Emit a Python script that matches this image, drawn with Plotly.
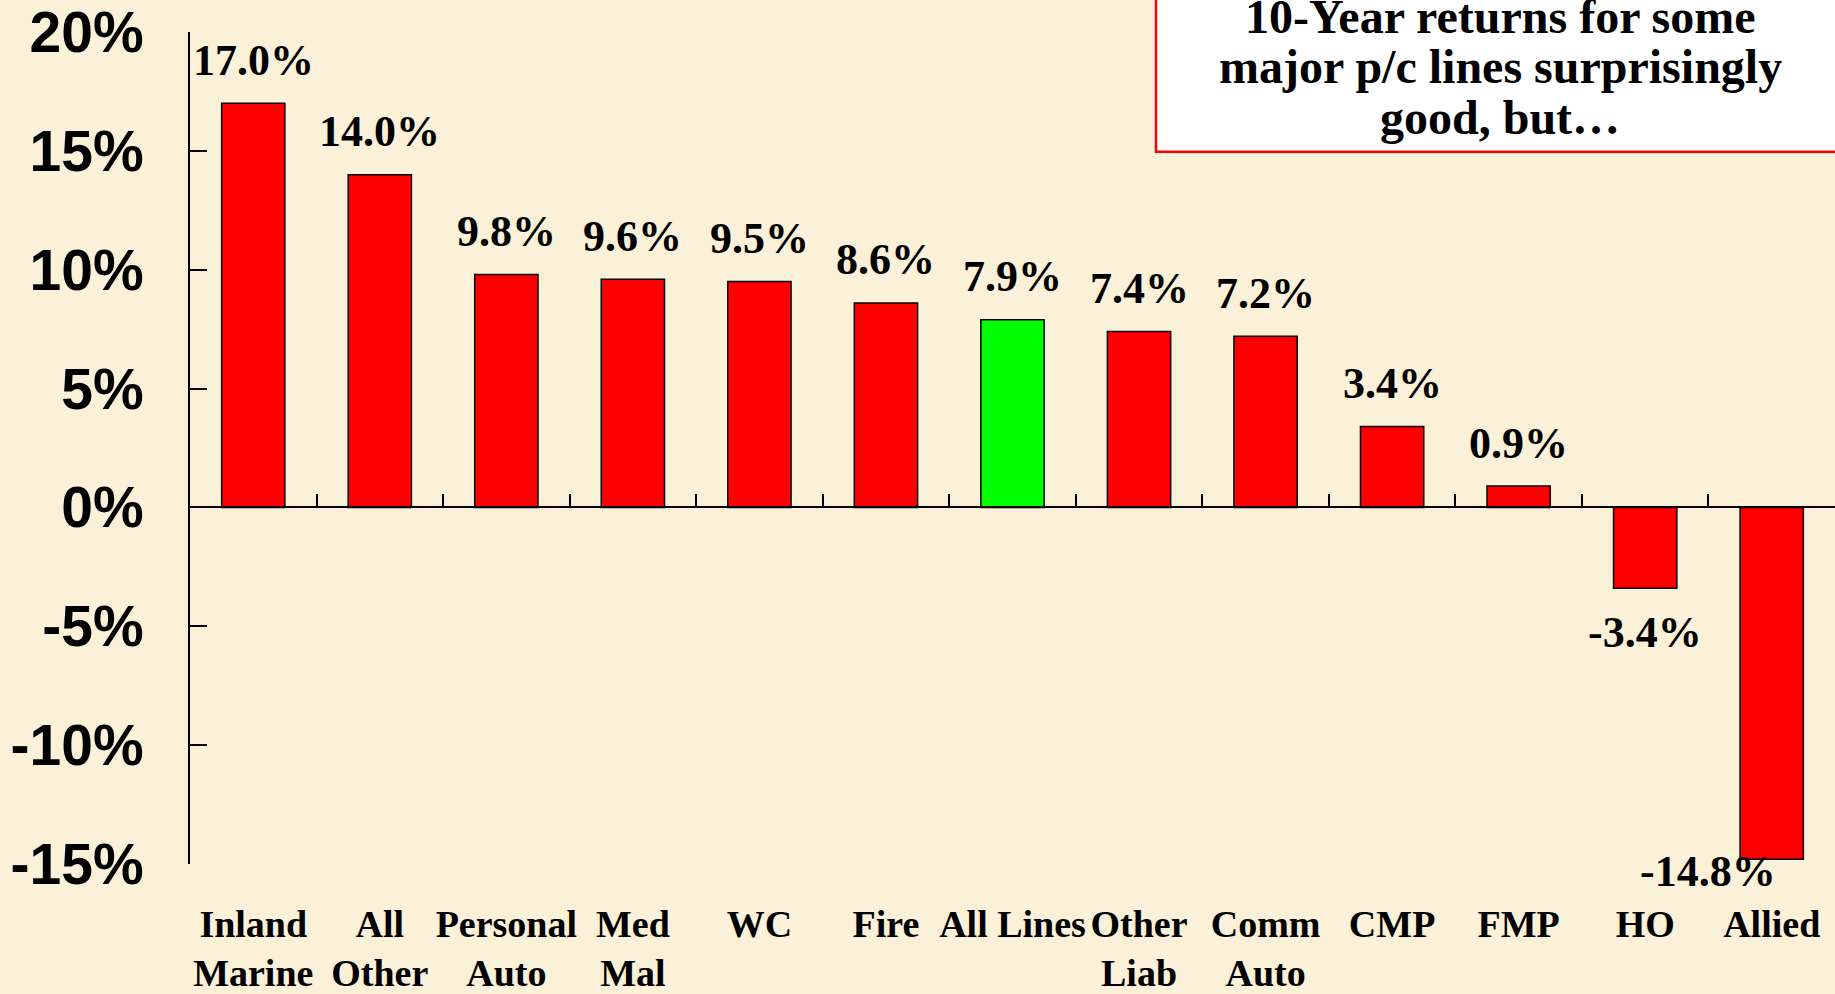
import plotly.graph_objects as go

# 10-year average return on net worth by line (%)
lines = ["Inland<br>Marine", "All<br>Other", "Personal<br>Auto", "Med<br>Mal", "WC", "Fire",
         "All Lines", "Other<br>Liab", "Comm<br>Auto", "CMP", "FMP", "HO", "Allied"]
returns = [17.0, 14.0, 9.8, 9.6, 9.5, 8.6, 7.9, 7.4, 7.2, 3.4, 0.9, -3.4, -14.8]
highlight = "All Lines"

ytick_vals = [-15, -10, -5, 0, 5, 10, 15, 20]

title_lines = ["10-Year returns for some", "major p/c lines surprisingly", "good, but…"]

W, H = 1835, 994
ML, MR, MT, MB = 190, 0, 32, 128
BG = "#FBF0D8"
SERIF = "Liberation Serif, Times New Roman, serif"
SANS = "Liberation Sans, Arial, sans-serif"

colors = ["#00FF00" if c == highlight else "#FF0000" for c in lines]
ymin, ymax = -15, 20
xrange = [-0.5, 12.5]

fig = go.Figure()
fig.add_trace(go.Bar(
    x=lines, y=returns,
    marker=dict(color=colors, line=dict(color="black", width=1.5)),
    hoverinfo="x+y", showlegend=False
))
# invisible copy so the bottom label axis has categories
fig.add_trace(go.Scatter(
    x=lines, y=returns, xaxis="x2", mode="markers",
    marker=dict(opacity=0), hoverinfo="skip", showlegend=False
))

# value labels above / below bars
for name, v in zip(lines, returns):
    shift = 43 if v >= 0 else -44
    xshift = 0
    if v < -12:  # no room below, label sits over the bar end like the original
        shift, xshift = -12, -64
    fig.add_annotation(
        x=name, y=v, xref="x", yref="y", yshift=shift, xshift=xshift, showarrow=False,
        xanchor="center", yanchor="middle",
        text=f"{v:.1f}%", font=dict(family=SERIF, size=44, color="black", weight="bold")
    )

# title box, top right
fig.add_shape(type="rect", xref="paper", yref="paper",
              x0=(1156 - ML) / (W - ML), x1=1.02,
              y0=(H - MB - 152) / (H - MB - MT), y1=1.2,
              fillcolor="white", line=dict(color="#FF0000", width=2.5), layer="above")
for i, t in enumerate(title_lines):
    fig.add_annotation(
        x=(1500 - ML) / (W - ML), y=(H - MB - (16 + 51 * i)) / (H - MB - MT),
        xref="paper", yref="paper", showarrow=False, text=t,
        xanchor="center", yanchor="middle",
        font=dict(family=SERIF, size=48, color="black", weight="bold")
    )

fig.update_layout(
    width=W, height=H,
    margin=dict(l=ML, r=MR, t=MT, b=MB, pad=0),
    paper_bgcolor=BG, plot_bgcolor=BG,
    bargap=0.5,
    xaxis=dict(
        type="category", categoryorder="array", categoryarray=lines, range=xrange,
        anchor="free", position=(0 - ymin) / (ymax - ymin),
        showline=True, linecolor="black", linewidth=1.5,
        ticks="inside", tickson="boundaries", ticklen=13, tickwidth=1.5, tickcolor="black",
        showticklabels=False, showgrid=False, zeroline=False
    ),
    xaxis2=dict(
        type="category", categoryorder="array", categoryarray=lines, range=xrange,
        overlaying="x", anchor="y", side="bottom",
        showline=False, ticks="", showgrid=False, zeroline=False,
        ticklabelstandoff=34, ticklabeloverflow="allow",
        tickfont=dict(family=SERIF, size=38, color="black", weight="bold")
    ),
    yaxis=dict(
        range=[ymin, ymax], tickmode="array", tickvals=ytick_vals,
        ticktext=[f"{v}%" for v in ytick_vals],
        showline=True, linecolor="black", linewidth=2,
        ticks="inside", ticklen=17, tickwidth=2, tickcolor="black",
        showgrid=False, zeroline=False, ticklabelstandoff=33, ticklabeloverflow="allow",
        tickfont=dict(family=SANS, size=57, color="black", weight="bold")
    ),
)

fig.write_html("out.html", config={"displayModeBar": False},
               post_script="document.body.style.margin='0';document.body.style.overflow='hidden';")
